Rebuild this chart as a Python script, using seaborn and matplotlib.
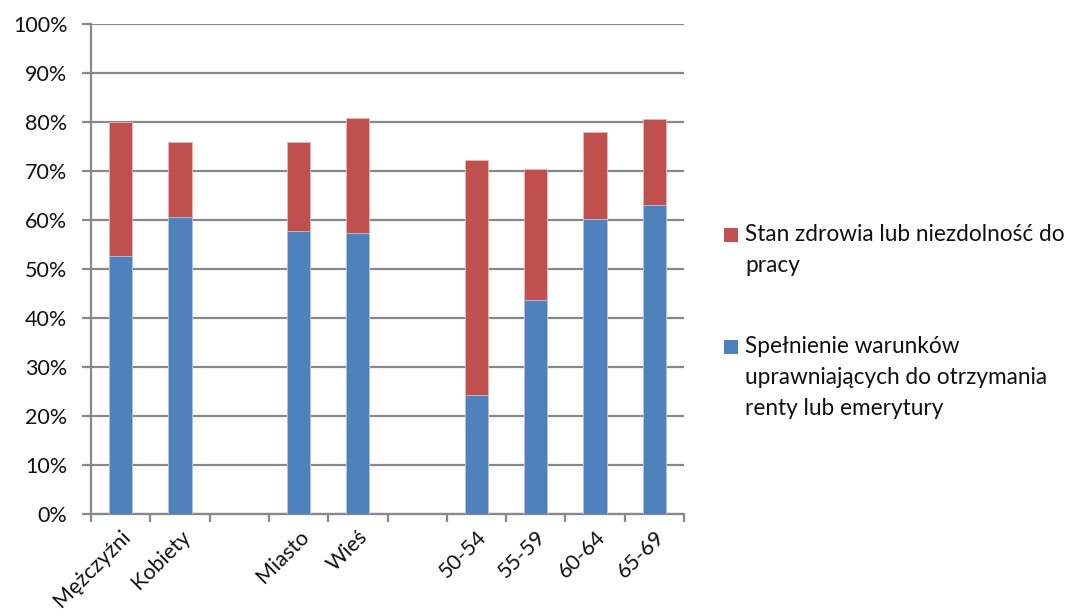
import matplotlib
matplotlib.use("Agg")
import matplotlib.pyplot as plt
from matplotlib.patches import Rectangle
from matplotlib.ticker import FixedLocator, PercentFormatter
import numpy as np
import pandas as pd
import seaborn as sns

# Groups (empty strings are spacer slots between group blocks)
categories = ["Mężczyźni", "Kobiety", "", "Miasto", "Wieś", "", "50-54", "55-59", "60-64", "65-69"]
# Share (%) — meeting pension/disability benefit eligibility conditions
eligibility = [52.6, 60.7, np.nan, 57.7, 57.3, np.nan, 24.2, 43.7, 60.3, 63.1]
# Share (%) — health condition or inability to work
health = [27.5, 15.3, np.nan, 18.2, 23.5, np.nan, 48.1, 26.7, 17.6, 17.6]

label_health = "Stan zdrowia lub niezdolność do\npracy"
label_elig = "Spełnienie warunków\nuprawniających do otrzymania\nrenty lub emerytury"

BLUE = "#4F81BD"
RED = "#C0504D"
GRID = "#888888"
TEXT = "#111111"
FS = 15.5
FS_LEG = 16.3

slot_ids = [f"s{i}" for i in range(len(categories))]
df = pd.DataFrame({
    "slot": slot_ids,
    "eligibility": eligibility,
    "health": health,
})
df["total"] = df["eligibility"] + df["health"]

sns.set_theme(style="white")
plt.rcParams["font.family"] = ["Lato", "DejaVu Sans"]

W, H = 1079, 616
fig = plt.figure(figsize=(W / 100, H / 100), dpi=100)
ax = fig.add_axes([91 / W, 1 - 514 / H, (684 - 91) / W, (514 - 24) / H])

bar_w = 0.39
sns.barplot(data=df, x="slot", y="total", order=slot_ids, color=RED, saturation=1,
            width=bar_w, ax=ax, edgecolor="#E8B8B6", linewidth=0.6, zorder=3)
sns.barplot(data=df, x="slot", y="eligibility", order=slot_ids, color=BLUE, saturation=1,
            width=bar_w, ax=ax, edgecolor="#B4C8E4", linewidth=0.6, zorder=3)

n = len(categories)
ax.set_xlim(-0.5, n - 0.5)
ax.set_ylim(0, 100)
ax.yaxis.set_major_locator(FixedLocator(np.arange(0, 101, 10)))
ax.yaxis.set_major_formatter(PercentFormatter(decimals=0))
ax.grid(axis="y", color=GRID, linewidth=1.6, zorder=0)
ax.set_axisbelow(True)

# Tick marks at slot boundaries, labels at slot centres
ax.xaxis.set_major_locator(FixedLocator(np.arange(n + 1) - 0.5))
ax.xaxis.set_minor_locator(FixedLocator(np.arange(n)))
ax.set_xticklabels([], minor=False)
ax.set_xticklabels(categories, minor=True, rotation=45, ha="right",
                   rotation_mode="anchor", fontsize=FS, color=TEXT)
ax.tick_params(axis="x", which="major", length=6, width=1.6, color=GRID, bottom=True)
ax.tick_params(axis="x", which="minor", length=0, pad=9)
ax.tick_params(axis="y", which="major", length=6.5, width=1.6, color=GRID, left=True,
               labelsize=FS, labelcolor=TEXT, pad=10.5)
ax.set_xlabel("")
ax.set_ylabel("")

for side in ["top", "right"]:
    ax.spines[side].set_visible(False)
for side in ["left", "bottom"]:
    ax.spines[side].set_color(GRID)
    ax.spines[side].set_linewidth(1.6)

# Legend: square key aligned with the first line of each wrapped label
legend_items = [(RED, label_health, 228), (BLUE, label_elig, 340)]
for color, text, top in legend_items:
    fig.add_artist(Rectangle((724 / W, 1 - (top + 14) / H), 14 / W, 14 / H,
                             transform=fig.transFigure, facecolor=color, edgecolor="none"))
    fig.text(745 / W, 1 - (top - 4) / H, text, ha="left", va="top", fontsize=FS_LEG,
             color=TEXT, linespacing=1.6)

fig.savefig("out.png", dpi=100)
